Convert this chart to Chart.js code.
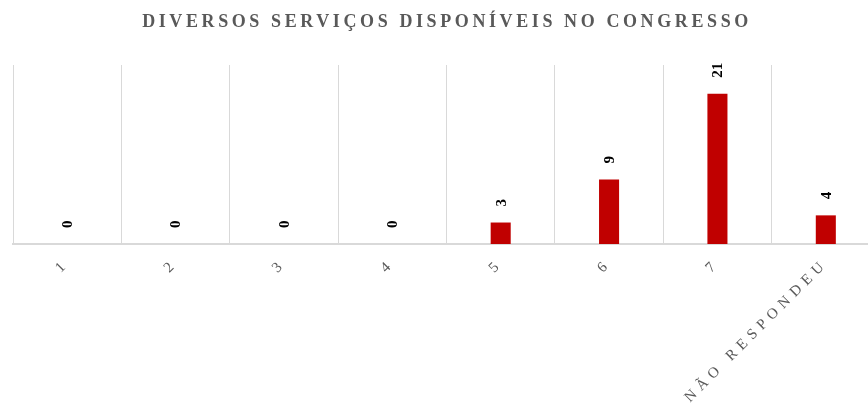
<!DOCTYPE html>
<html><head><meta charset="utf-8">
<script src="https://cdn.jsdelivr.net/npm/chart.js@4/dist/chart.umd.min.js"></script>
<style>html,body{margin:0;padding:0;overflow:hidden;background:#fff}
#wrap{position:relative;width:880px;height:407px}</style>
</head><body><div id="wrap"><canvas id="c"></canvas></div>
<script>
const chartTitle = 'DIVERSOS SERVIÇOS DISPONÍVEIS NO CONGRESSO';
const categories = ['1', '2', '3', '4', '5', '6', '7', 'NÃO RESPONDEU'];
const values = [0, 0, 0, 0, 3, 9, 21, 4];
const yMin = 0;
const yMax = 25;

const spacingPlugin = {
  id: 'spacing',
  beforeDraw(chart) { chart.ctx.letterSpacing = '5.5px'; },
  beforeDatasetsDraw(chart) { chart.ctx.letterSpacing = '0px'; }
};

const labelPlugin = {
  id: 'barLabels',
  afterDatasetsDraw(chart) {
    const ctx = chart.ctx;
    const meta = chart.getDatasetMeta(0);
    meta.data.forEach((bar, i) => {
      ctx.save();
      ctx.letterSpacing = '0px';
      ctx.translate(bar.x, bar.y - 16);
      ctx.rotate(-Math.PI / 2);
      ctx.font = 'bold 15px "Liberation Serif"';
      ctx.fillStyle = '#000000';
      ctx.textAlign = 'left';
      ctx.textBaseline = 'middle';
      ctx.fillText(String(chart.data.datasets[0].data[i]), 0, 1);
      ctx.restore();
    });
  }
};

const titlePlugin = {
  id: 'spacedTitle',
  afterDraw(chart) {
    const ctx = chart.ctx;
    ctx.save();
    ctx.letterSpacing = '3.6px';
    ctx.font = 'bold 18px "Liberation Serif"';
    ctx.fillStyle = '#595959';
    ctx.textAlign = 'center';
    ctx.textBaseline = 'middle';
    ctx.fillText(chartTitle, 447, 22);
    ctx.restore();
  }
};

new Chart(document.getElementById('c'), {
  type: 'bar',
  data: {
    labels: categories,
    datasets: [{
      data: values,
      backgroundColor: '#C00000',
      borderWidth: 0,
      barPercentage: 0.185,
      categoryPercentage: 1
    }]
  },
  options: {
    responsive: true,
    maintainAspectRatio: false,
    animation: false,
    layout: { padding: { top: 65, left: 13, right: 0, bottom: 0 } },
    plugins: { legend: { display: false }, tooltip: { enabled: false }, title: { display: false } },
    scales: {
      x: {
        grid: { color: '#d9d9d9', lineWidth: 1, drawTicks: false, offset: true },
        border: { color: '#d9d9d9', width: 2 },
        ticks: {
          autoSkip: false, minRotation: 45, maxRotation: 45, padding: 11,
          color: '#595959', font: { family: 'Liberation Serif', size: 15 }
        },
        afterFit(s) { s.height = 163; }
      },
      y: { display: false, min: yMin, max: yMax }
    }
  },
  plugins: [spacingPlugin, labelPlugin, titlePlugin]
});
</script></body></html>
